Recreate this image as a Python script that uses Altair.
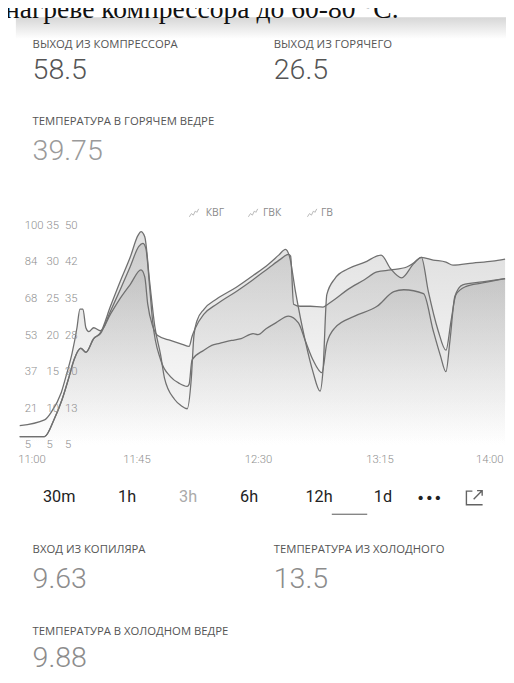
import altair as alt
import numpy as np
import pandas as pd

# ---------------- data ----------------
SERIES = ["КВГ", "ГВК", "ГВ"]
DOMAIN_MAX = [100, 35, 50]
TICK_TEXT = [
    ["5", "21", "37", "53", "68", "84", "100"],
    ["5", "10", "15", "20", "25", "30", "35"],
    ["5", "13", "20", "28", "35", "42", "50"],
]
X_TICK_MIN = [0, 45, 90, 135, 180]
X_TICK_TEXT = ["11:00", "11:45", "12:30", "13:15", "14:00"]

# minutes after 11:00 and values
kvg_min = [1.6, 10.8, 13.3, 17.0, 19.1, 21.0, 22.8, 23.9, 25.0, 26.1, 27.2, 29.0, 31.5,
           35.2, 38.8, 42.5, 46.5, 47.9, 49.0, 50.8, 52.7, 57.4, 61.8, 64.3, 65.4, 66.5,
           69.8, 74.5, 81.8, 88.0, 93.8, 98.2, 101.1, 101.9, 103.0, 105.5, 109.2, 113.9,
           115.7, 118.3, 123.0, 129.2, 133.9, 139.0, 144.9, 147.4, 150.3, 154.7, 159.4,
           162.0, 169.3, 176.6, 181.3]
kvg_val = [13.5, 16.0, 19.4, 27.9, 36.4, 44.9, 55.9, 64.0, 64.0, 55.9, 54.2, 55.9, 54.6,
           61.8, 68.6, 74.6, 80.9, 77.9, 66.1, 56.7, 52.5, 50.4, 48.7, 47.8, 52.1, 55.5,
           61.8, 66.1, 71.6, 76.7, 81.8, 85.6, 87.7, 86.9, 66.1, 65.2, 65.2, 64.8,
           66.1, 68.2, 72.4, 76.7, 80.1, 80.9, 82.2, 83.9, 86.4, 85.2, 84.3,
           83.0, 83.9, 84.7, 85.6]

gvk_min = [1.6, 10.8, 14.4, 17.3, 19.9, 21.7, 24.2, 26.1, 29.0, 31.5, 35.2, 38.8, 42.5,
           45.4, 46.5, 47.9, 49.7, 51.6, 53.8, 55.2, 58.9, 61.4, 63.6, 65.1, 66.1, 67.2,
           69.8, 74.5, 81.8, 88.0, 93.8, 97.5, 100.0, 101.5, 103.7, 107.3, 110.2, 112.8,
           113.9, 115.3, 118.3, 123.0, 129.2, 135.4, 139.0, 143.0, 147.4, 150.3, 152.9,
           156.5, 159.4, 161.3, 163.1, 166.7, 172.9, 181.3]
gvk_val = [6.2, 6.2, 8.6, 11.3, 14.4, 16.7, 18.3, 17.7, 19.6, 20.4, 24.0, 27.4, 30.7,
           33.7, 34.2, 33.5, 27.4, 21.3, 17.3, 14.2, 11.3, 10.4, 10.0, 14.0, 20.0, 22.0,
           23.6, 25.0, 26.6, 28.2, 29.8, 31.0, 31.8, 30.8, 26.0, 19.3, 15.0, 12.4,
           15.3, 25.6, 27.8, 29.1, 30.0, 31.0, 29.1, 27.9, 29.8, 30.7, 26.0,
           20.7, 18.0, 22.0, 25.6, 26.7, 27.2, 27.8]

gv_min = [1.6, 10.8, 14.4, 17.3, 19.9, 21.7, 24.2, 26.1, 29.0, 31.5, 35.2, 38.8, 42.5,
          45.7, 47.2, 48.3, 49.7, 50.8, 53.8, 57.4, 60.7, 63.6, 64.3, 65.4, 69.8, 72.7,
          75.6, 80.0, 83.6, 88.0, 89.8, 92.8, 96.4, 101.1, 104.8, 107.3, 110.2, 113.5,
          115.3, 118.3, 125.6, 133.9, 140.1, 143.8, 151.1, 154.7, 157.3, 159.4, 160.9,
          162.7, 165.6, 172.9, 181.3]
gv_val = [6.8, 6.8, 10.4, 14.4, 19.1, 22.5, 24.9, 24.1, 26.9, 27.9, 32.5, 36.9, 41.6,
          45.8, 46.4, 45.4, 37.5, 30.5, 22.5, 19.1, 17.7, 17.1, 17.5, 22.5, 24.5, 25.5,
          25.9, 26.5, 26.9, 27.9, 27.7, 28.9, 30.1, 31.5, 30.1, 26.5, 22.5, 19.9,
          25.9, 29.1, 31.5, 33.5, 36.5, 36.9, 36.1, 28.5, 23.5, 20.1, 26.5,
          35.5, 37.9, 38.5, 39.2]

SERIES_MIN = [kvg_min, gvk_min, gv_min]
SERIES_VAL = [kvg_val, gvk_val, gv_val]

CAPTION = "нагреве компрессора до 60-80 °С."
TOP_LABELS = ["ВЫХОД ИЗ КОМПРЕССОРА", "ВЫХОД ИЗ ГОРЯЧЕГО", "ТЕМПЕРАТУРА В ГОРЯЧЕМ ВЕДРЕ"]
TOP_VALUES = ["58.5", "26.5", "39.75"]
BOTTOM_LABELS = ["ВХОД ИЗ КОПИЛЯРА", "ТЕМПЕРАТУРА ИЗ ХОЛОДНОГО", "ТЕМПЕРАТУРА В ХОЛОДНОМ ВЕДРЕ"]
BOTTOM_VALUES = ["9.63", "13.5", "9.88"]
RANGES = ["30m", "1h", "3h", "6h", "12h", "1d"]

# ---------------- layout (chart coordinates) ----------------
W, H = 506, 667
X_RANGE = [7.5, 501.5]
Y_RANGE = [439, 216]
TICK_COL_X = [17, 39, 58]
WIDGET_X = [25, 270, 25]
TOP_LABEL_Y = [32, 32, 111]
TOP_VALUE_Y = [58, 58, 140]
BOT_LABEL_Y = [545, 545, 629]
BOT_VALUE_Y = [575, 575, 655]
TOP_VALUE_COLOR = ["#555555", "#555555", "#9a9a9a"]
LEGEND_ICON_X = [189, 249, 309]
LEGEND_TEXT_X = [201, 259, 318]
LEGEND_Y = 203
RANGE_X = [52, 121, 183, 245, 316, 381]
RANGE_COLOR = ["#222222", "#222222", "#aaaaaa", "#222222", "#222222", "#222222"]
RANGE_Y = 492

FONT = "Roboto"
LABEL_FONT = "Open Sans"

xscale = alt.Scale(domain=[0, 180], range=X_RANGE, nice=False, zero=False)


def yscale(i):
    return alt.Scale(domain=[5, DOMAIN_MAX[i]], range=Y_RANGE, nice=False, zero=False)


def one(s):
    return pd.DataFrame({"t": [s]})


def text_layer(s, x, y, size, color, align="left", font=FONT, weight=400, baseline="middle"):
    return alt.Chart(one(s)).mark_text(
        align=align, baseline=baseline, font=font, fontSize=size, color=color,
        fontWeight=weight
    ).encode(x=alt.value(x), y=alt.value(y), text="t:N")


layers = []

# card shadow under the cut caption
shadow = alt.Chart(one("s")).mark_rect(
    fill=alt.Gradient(gradient="linear",
                      stops=[alt.GradientStop(color="#d6d6d6", offset=0),
                             alt.GradientStop(color="#ffffff", offset=1)],
                      x1=0, x2=0, y1=0, y2=1)
).encode(x=alt.value(8), x2=alt.value(W + 8), y=alt.value(4), y2=alt.value(26))
layers.append(shadow)
layers.append(text_layer(CAPTION, -3, 5, 28, "#111111", font="Liberation Serif",
                         baseline="alphabetic"))

# top widgets
for i in range(3):
    layers.append(text_layer(TOP_LABELS[i], WIDGET_X[i], TOP_LABEL_Y[i], 11.5, "#555555",
                             font=LABEL_FONT))
    layers.append(text_layer(TOP_VALUES[i], WIDGET_X[i], TOP_VALUE_Y[i], 29,
                             TOP_VALUE_COLOR[i], weight=300))

# series areas and lines
frames = []
for i in range(3):
    frames.append(pd.DataFrame({"m": SERIES_MIN[i], "v": SERIES_VAL[i]}))

for i in range(3):
    area = alt.Chart(frames[i]).mark_area(
        interpolate="monotone",
        fillOpacity=0.26,
        fill=alt.Gradient(gradient="linear",
                          stops=[alt.GradientStop(color="#ffffff", offset=0),
                                 alt.GradientStop(color="#8a8a8a", offset=1)],
                          x1=1, x2=1, y1=1, y2=0)
    ).encode(x=alt.X("m:Q", scale=xscale, axis=None),
             y=alt.Y("v:Q", scale=yscale(i), axis=None),
             y2=alt.datum(5))
    layers.append(area)

for i in range(3):
    line = alt.Chart(frames[i]).mark_line(
        color="#707070", strokeWidth=1.3, interpolate="monotone").encode(
        x=alt.X("m:Q", scale=xscale, axis=None),
        y=alt.Y("v:Q", scale=yscale(i), axis=None))
    layers.append(line)

# y tick labels, three columns, one per series scale
for i in range(3):
    df = pd.DataFrame({"v": np.linspace(5, DOMAIN_MAX[i], 7), "t": TICK_TEXT[i]})
    layers.append(alt.Chart(df).mark_text(
        align="left", baseline="middle", font=FONT, fontSize=11.5, color="#8f8f8f",
        fontWeight=300
    ).encode(x=alt.value(TICK_COL_X[i]), y=alt.Y("v:Q", scale=yscale(i), axis=None),
             text="t:N"))

# x tick labels
xt = pd.DataFrame({"m": X_TICK_MIN, "t": X_TICK_TEXT})
for sl, al, dx in [(slice(0, 1), "left", 3), (slice(1, 4), "center", 0), (slice(4, 5), "right", 2)]:
    layers.append(alt.Chart(xt.iloc[sl]).mark_text(
        align=al, baseline="middle", font=FONT, fontSize=11.5, color="#8f8f8f",
        fontWeight=300, dx=dx
    ).encode(x=alt.X("m:Q", scale=xscale, axis=None), y=alt.value(454), text="t:N"))

# legend
icon_path = "M-1,0.8L-0.55,0.1L-0.15,0.45L0.3,-0.45L0.6,-0.15L1,-0.9"
for i in range(3):
    layers.append(alt.Chart(one(SERIES[i])).mark_point(
        shape=icon_path, filled=False, color="#9a9a9a", strokeWidth=1, size=90
    ).encode(x=alt.value(LEGEND_ICON_X[i]), y=alt.value(LEGEND_Y)))
    layers.append(text_layer(SERIES[i], LEGEND_TEXT_X[i], LEGEND_Y, 10.5, "#8a8a8a",
                             font=LABEL_FONT))

# time range selector
for i in range(len(RANGES)):
    layers.append(text_layer(RANGES[i], RANGE_X[i], RANGE_Y, 16.5, RANGE_COLOR[i],
                             align="center", weight=400))
layers.append(text_layer("•••", 428, RANGE_Y + 1, 15, "#222222", align="center",
                         font="DejaVu Sans"))
expand_path = ("M-0.25,-0.75L-0.95,-0.75L-0.95,0.85L0.95,0.85"
               "M-0.1,0.2L0.85,-0.75M0.3,-0.8L0.9,-0.8L0.9,-0.2")
layers.append(alt.Chart(one("e")).mark_point(
    shape=expand_path, filled=False, color="#222222", strokeWidth=1.4, size=300
).encode(x=alt.value(474), y=alt.value(RANGE_Y)))
layers.append(alt.Chart(one("u")).mark_rule(color="#555555", strokeWidth=1).encode(
    x=alt.value(329), x2=alt.value(365), y=alt.value(509)))

# bottom widgets
for i in range(3):
    layers.append(text_layer(BOTTOM_LABELS[i], WIDGET_X[i], BOT_LABEL_Y[i], 11.5, "#555555",
                             font=LABEL_FONT))
    layers.append(text_layer(BOTTOM_VALUES[i], WIDGET_X[i], BOT_VALUE_Y[i], 29, "#8c8c8c",
                             weight=300))

chart = alt.layer(*layers).resolve_scale(y="independent").properties(
    width=W, height=H, padding=0,
    autosize=alt.AutoSizeParams(type="none"),
    background="white",
).configure_view(stroke=None)

chart.save("out.html", embed_options={"renderer": "svg", "actions": False})
